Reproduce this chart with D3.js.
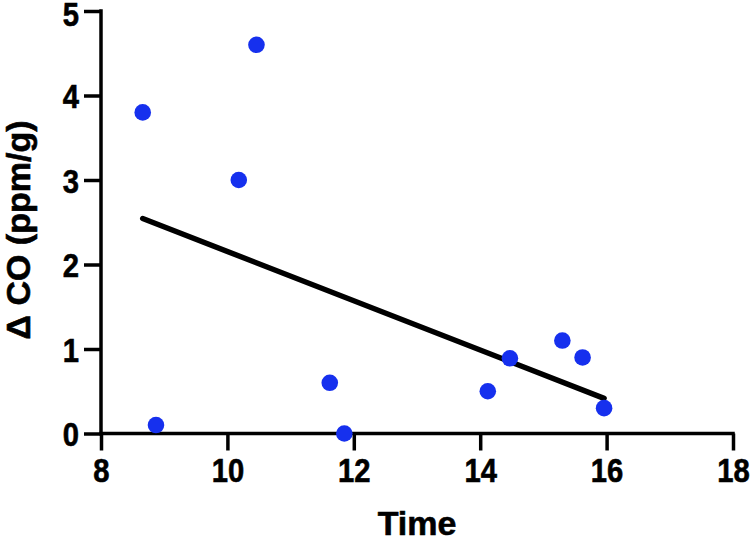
<!DOCTYPE html>
<html>
<head>
<meta charset="utf-8">
<script src="https://cdn.jsdelivr.net/npm/d3@7"></script>
<style>
html,body{margin:0;padding:0;background:#fff;}
svg text{font-family:"Liberation Sans",Arial,Helvetica,sans-serif;font-weight:bold;fill:#000;stroke:#000;stroke-width:0.6px;}
</style>
</head>
<body>
<svg id="chart" width="750" height="541"></svg>
<script>
const timeValues = [8.66, 8.87, 10.18, 10.46, 11.62, 11.85, 14.12, 14.47, 15.30, 15.62, 15.96];
const coValues   = [3.80, 0.10, 3.00, 4.60, 0.60, 0.00, 0.50, 0.89, 1.10, 0.90, 0.30];
const xTicks = [8, 10, 12, 14, 16, 18];
const yTicks = [0, 1, 2, 3, 4, 5];
const xLabel = "Time";
const yLabel = "\u0394 CO (ppm/g)";

const svg = d3.select("#chart");
const x = d3.scaleLinear().domain([8, 18]).range([101, 733]);
const y = d3.scaleLinear().domain([0, 5]).range([433.5, 11]);

const pts = timeValues.map((t, i) => ({t, c: coValues[i]}));

// linear regression
const mx = d3.mean(timeValues), my = d3.mean(coValues);
const sxy = d3.sum(pts, p => (p.t - mx) * (p.c - my));
const sxx = d3.sum(pts, p => (p.t - mx) ** 2);
const slope = sxy / sxx, intercept = my - slope * mx;
const x0 = d3.min(timeValues), x1 = d3.max(timeValues);

const sx = 0.86; // narrower digits like the reference

// axes
const xAxis = svg.append("g").attr("transform", `translate(0,${y(0)})`)
  .call(d3.axisBottom(x).tickValues(xTicks).tickSize(17).tickPadding(7).tickFormat(d3.format("d")));
const yAxis = svg.append("g").attr("transform", `translate(${x(8)},0)`)
  .call(d3.axisLeft(y).tickValues(yTicks).tickSize(17).tickPadding(5).tickFormat(d3.format("d")));
[xAxis, yAxis].forEach(g => {
  g.select(".domain").attr("stroke", "#000").attr("stroke-width", 3.5)
    .attr("stroke-linecap", "square");
  g.selectAll(".tick line").attr("stroke", "#000").attr("stroke-width", 3.5);
  g.selectAll(".tick text").style("font-size", "34px").attr("fill", "#000");
});
xAxis.select(".domain").attr("d", `M${x(8)},0H${x(18)}`);
yAxis.select(".domain").attr("d", `M0,${y(0)}V${y(5)}`);
xAxis.selectAll(".tick text").attr("transform", `scale(${sx},1)`);
yAxis.selectAll(".tick text")
  .attr("dy", d => d === 5 ? "0.44em" : "0.36em")
  .attr("x", -22 / sx).attr("transform", `scale(${sx},1)`);

// regression line
svg.append("line")
  .attr("x1", x(x0)).attr("y1", y(intercept + slope * x0))
  .attr("x2", x(x1)).attr("y2", y(intercept + slope * x1))
  .attr("stroke", "#000").attr("stroke-width", 5.5).attr("stroke-linecap", "round");

// points
svg.append("g").selectAll("circle").data(pts).join("circle")
  .attr("cx", d => x(d.t)).attr("cy", d => y(d.c)).attr("r", 8.3)
  .attr("fill", "#1630EE");

// axis titles
svg.append("text").attr("x", (x(8) + x(18)) / 2).attr("y", 535)
  .attr("text-anchor", "middle").style("font-size", "34px").text(xLabel);
svg.append("text").attr("transform", `translate(30,230) rotate(-90)`)
  .attr("text-anchor", "middle").style("font-size", "34px").text(yLabel);
</script>
</body>
</html>
